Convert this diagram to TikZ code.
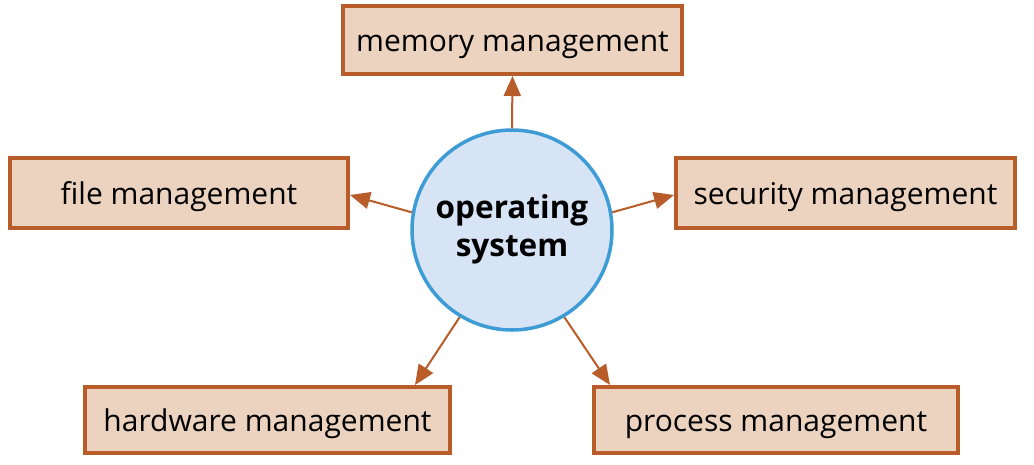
\documentclass[tikz,border=0pt]{standalone}
\usepackage{fontspec}
\setmainfont{Open Sans}
\usetikzlibrary{arrows.meta,calc}
\definecolor{boxfill}{RGB}{236,211,191}
\definecolor{boxline}{RGB}{184,92,42}
\definecolor{osfill}{RGB}{214,228,245}
\definecolor{osline}{RGB}{61,155,214}
\begin{document}
\begin{tikzpicture}[x=1pt,y=-1pt,
  mbox/.style={draw=boxline,fill=boxfill,line width=4pt,inner sep=0pt,font=\fontsize{30}{36}\selectfont,text height=22pt,text depth=0pt},
  conn/.style={draw=boxline,line width=2pt,-{Triangle[length=20pt,width=17pt]}}]
\useasboundingbox (0,0) rectangle (1034,464);
\node[draw=osline,fill=osfill,line width=3.5pt,circle,minimum size=200pt,inner sep=0pt,font=\bfseries\fontsize{31.5}{39}\selectfont] (os) at (512,230) {\raisebox{-6pt}{\begin{tabular}{@{}c@{}}operating\\[-1pt]system\end{tabular}}};
\node[mbox,minimum width=339pt,minimum height=68pt] (mem) at (512.5,40) {memory management};
\node[mbox,minimum width=338pt,minimum height=70pt] (file) at (179,193) {file management};
\node[mbox,minimum width=339pt,minimum height=70pt] (sec) at (845.5,193) {security management};
\node[mbox,minimum width=365pt,minimum height=66pt] (hw) at (267.5,420) {hardware management};
\node[mbox,minimum width=364pt,minimum height=66pt] (proc) at (776,420) {process management};
\draw[conn] (os.north) -- (mem.south);
\draw[conn] (os.170) -- ($(file.east)+(0,2)$);
\draw[conn] (os.10) -- ($(sec.west)+(0,2)$);
\draw[conn] (os.239) -- ($(hw.north east)+(-37,0)$);
\draw[conn] (os.301) -- ($(proc.north west)+(18,0)$);
\end{tikzpicture}
\end{document}
